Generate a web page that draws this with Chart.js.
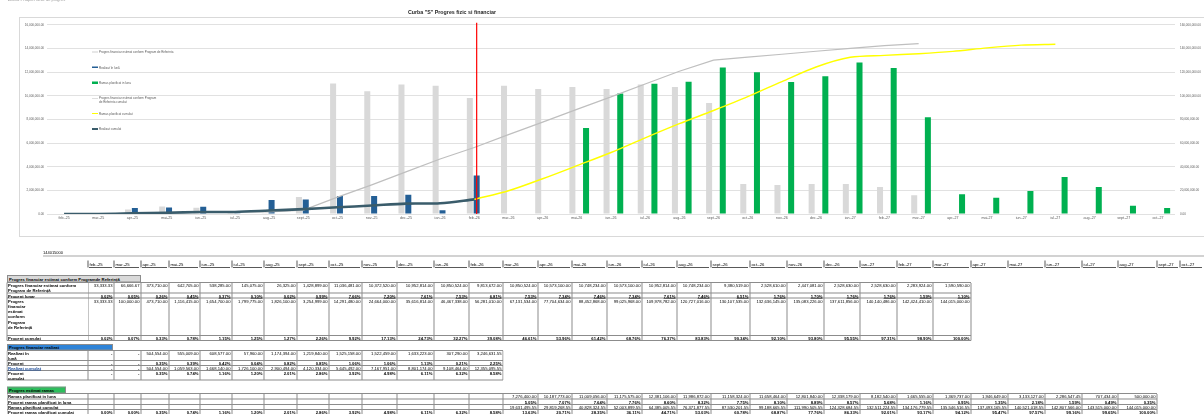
<!DOCTYPE html>
<html>
<head>
<meta charset="utf-8">
<script src="https://cdn.jsdelivr.net/npm/chart.js@4.4.1/dist/chart.umd.min.js"></script>
<style>
html, body { margin: 0; padding: 0; background: #fff; }
body { width: 1204px; height: 414px; overflow: hidden; position: relative; font-family: "Liberation Sans", Arial, sans-serif; }
#chartBox { position: absolute; left: 19px; top: 17px; width: 1200px; height: 218px; border: 1px solid #d9d9d9; }
#chart { position: absolute; left: 0; top: 0; }
#ov { position: absolute; left: 0; top: 0; width: 2408px; height: 828px; transform: scale(0.5); transform-origin: 0 0; }
#ov div { position: absolute; box-sizing: border-box; white-space: nowrap; color: #000; }
</style>
</head>
<body>
<div id="chartBox"><canvas id="chart" width="1184" height="218"></canvas></div>
<div id="ov"></div>
<script>
// luni (axa X si capul de tabel)
const months = ['feb.-25', 'mar.-25', 'apr.-25', 'mai-25', 'iun.-25', 'iul.-25', 'aug.-25', 'sept.-25', 'oct.-25', 'nov.-25', 'dec.-25',
    'ian.-26', 'feb.-26', 'mar.-26', 'apr.-26', 'mai-26', 'iun.-26', 'iul.-26', 'aug.-26', 'sept.-26', 'oct.-26', 'nov.-26', 'dec.-26',
    'ian.-27', 'feb.-27', 'mar.-27', 'apr.-27', 'mai-27', 'iun.-27', 'iul.-27', 'aug.-27', 'sept.-27', 'oct.-27'];

const valoareTotala = 144015000;
const lunaCurenta = 'feb.-26';

// Progres financiar estimat conform Program de Referinta (feb.-25 .. mar.-27)
const programLunar = [33333.33, 66666.67, 373710, 642705, 538285, 145075, 26325, 1428899, 11036481, 10372520, 10952814,
    10850524, 9813672, 10850524, 10573100, 10748234, 10573100, 10952814, 10748234, 9380519, 2528610, 2447081, 2528630,
    2528630, 2283924, 1590590];
const procentLunar = [0.02, 0.05, 0.26, 0.45, 0.37, 0.10, 0.02, 0.99, 7.66, 7.20, 7.61, 7.53, 6.81, 7.53, 7.34, 7.46, 7.34,
    7.61, 7.46, 6.51, 1.76, 1.70, 1.76, 1.76, 1.59, 1.10];
const programCumulat = [33333.33, 100000, 473710, 1116415, 1654700, 1799775, 1826100, 3254999, 14291480, 24664000, 35616814,
    46467338, 56281010, 67131534, 77704634, 88452868, 99025968, 109978782, 120727016, 130107535, 132636145, 135083226,
    137611856, 140140486, 142424410, 144015000];
const procentCumulat = [0.02, 0.07, 0.33, 0.78, 1.15, 1.25, 1.27, 2.26, 9.92, 17.13, 24.73, 32.27, 39.08, 46.61, 53.96, 61.42,
    68.76, 76.37, 83.83, 90.34, 92.10, 93.80, 95.55, 97.31, 98.90, 100.00];

// Progres financiar realizat (feb.-25 .. feb.-26)
const realizatLuna = [0, 0, 504554, 555009, 608577, 57960, 1174394, 1219840, 1525158, 1522459, 1633223, 307290, 3246631.55];
const procentRealizat = [0, 0, 0.35, 0.39, 0.42, 0.04, 0.82, 0.85, 1.06, 1.06, 1.13, 0.21, 2.25];
const realizatCumulat = [0, 0, 504554, 1059563, 1668140, 1726100, 2900494, 4120334, 5645492, 7167951, 8801174, 9108464, 12355095.55];
const procentRealizatCumulat = [0, 0, 0.35, 0.74, 1.16, 1.20, 2.01, 2.86, 3.92, 4.98, 6.11, 6.32, 8.58];

// Progres estimat ramas (mar.-26 .. aug.-27)
const ramasStart = 'mar.-26';
const ramasLuna = [7276400, 10187773, 11009056, 11175575, 12381106, 11986872, 11158324, 11658464, 12801840, 12338179,
    8182540, 1665555, 1369737, 1946649, 3133127, 2286547.45, 707434, 500000];
const procentRamasLuna = [5.05, 7.07, 7.64, 7.76, 8.60, 8.32, 7.75, 8.10, 8.89, 8.57, 5.68, 1.16, 0.95, 1.35, 2.18, 1.59, 0.49, 0.35];
const ramasCumulat = [19631495.55, 29819268.55, 40828324.55, 52003899.55, 64385005.55, 76371877.55, 87530201.55, 99188665.55,
    111990505.55, 124328684.55, 132511224.55, 134176779.55, 135546516.55, 137493165.55, 140521018.55, 142807566, 143515000, 144015000];
// feb.-25 .. aug.-27
const procentRamasCumulat = [0, 0, 0.35, 0.74, 1.16, 1.20, 2.01, 2.86, 3.92, 4.98, 6.11, 6.32, 8.58, 13.63, 20.71, 28.35, 36.11,
    44.71, 53.03, 60.78, 68.87, 77.76, 86.33, 92.01, 93.17, 94.12, 95.47, 97.57, 99.16, 99.65, 100.00];

// in grafic, barele "ramas" apar de la mai.-26, iar curba cumulata se opreste la iul.-27
const ramasBareStart = 'mai-26';
const ramasCurbaEnd = 'iul.-27';

const FONT = '"Liberation Sans", Arial, sans-serif';
const fmt = v => v.toLocaleString('en-US', { minimumFractionDigits: 2, maximumFractionDigits: 2 });
const pct = v => v.toFixed(2) + '%';

const iCurent = months.indexOf(lunaCurenta);
const greenData = months.map((m, i) => {
    const k = i - months.indexOf(ramasBareStart);
    return k >= 0 && k < ramasLuna.length ? ramasLuna[k] : null;
});
const yellowData = months.map((m, i) => {
    if (i === iCurent) return realizatCumulat[realizatCumulat.length - 1];
    const k = i - months.indexOf(ramasStart);
    return k >= 0 && i <= months.indexOf(ramasCurbaEnd) ? ramasCumulat[k] : null;
});

// grupul de bare e usor decalat spre dreapta fata de mijlocul lunii (ca in Excel)
const BAR_SHIFT = 2.4;
const barShiftPlugin = {
    id: 'barShift',
    beforeDatasetDraw(chart, args) {
        if (args.meta.type !== 'bar') return;
        chart.ctx.save();
        chart.ctx.translate(BAR_SHIFT, 0);
    },
    afterDatasetDraw(chart, args) {
        if (args.meta.type !== 'bar') return;
        chart.ctx.restore();
    }
};

const markerPlugin = {
    id: 'marker',
    afterDatasetsDraw(chart) {
        const {ctx, chartArea} = chart;
        const bar = chart.getDatasetMeta(4).data[iCurent];
        const x = bar.x + BAR_SHIFT;
        ctx.save();
        ctx.strokeStyle = '#FF0000';
        ctx.lineWidth = 1.2;
        ctx.beginPath();
        ctx.moveTo(x, chartArea.top - 2);
        ctx.lineTo(x, chartArea.bottom);
        ctx.stroke();
        ctx.restore();
    }
};

const tickFont = { family: FONT, size: 3 };

new Chart(document.getElementById('chart'), {
    data: {
        labels: months,
        datasets: [
            { type: 'line', label: 'Realizat cumulat', data: realizatCumulat, yAxisID: 'yR',
              borderColor: '#3A5C6B', borderWidth: 2.6, pointRadius: 0, tension: 0.3, order: 0 },
            { type: 'line', label: 'Ramas planificat cumulat', data: yellowData, yAxisID: 'yR',
              borderColor: '#FFFF00', borderWidth: 1.4, pointRadius: 0, tension: 0.3, order: 1 },
            { type: 'line', label: 'Progres financiar estimat conform Program de Referinta cumulat', data: programCumulat, yAxisID: 'yR',
              borderColor: '#BFBFBF', borderWidth: 1.2, pointRadius: 0, tension: 0, order: 2 },
            { type: 'bar', label: 'Progres financiar estimat conform Program de Referinta', data: programLunar, yAxisID: 'yL',
              backgroundColor: '#D9D9D9', categoryPercentage: 0.6, barPercentage: 0.88, order: 3 },
            { type: 'bar', label: 'Realizat în lună', data: realizatLuna, yAxisID: 'yL',
              backgroundColor: '#245F95', categoryPercentage: 0.6, barPercentage: 0.88, order: 3 },
            { type: 'bar', label: 'Ramas planificat in luna', data: greenData, yAxisID: 'yL',
              backgroundColor: '#00B050', categoryPercentage: 0.6, barPercentage: 0.88, order: 3 }
        ]
    },
    options: {
        responsive: false,
        animation: false,
        devicePixelRatio: 1,
        layout: { padding: { top: 5, left: 0, right: 0, bottom: 0 } },
        plugins: { legend: { display: false }, tooltip: { enabled: false } },
        scales: {
            x: {
                grid: { display: false, drawTicks: false },
                border: { display: false },
                ticks: { font: { family: FONT, size: 3.6 }, color: '#595959', autoSkip: false, maxRotation: 0, minRotation: 0, padding: 2 },
                afterFit(s) { s.height = 22; }
            },
            yL: {
                position: 'left', min: 0, max: 16000000,
                border: { display: false },
                grid: { color: '#D9D9D9', lineWidth: 0.8, drawTicks: false },
                ticks: { stepSize: 2000000, font: tickFont, color: '#595959', padding: 3, callback: v => fmt(v) },
                afterFit(s) { s.width = 27; }
            },
            yR: {
                position: 'right', min: 0, max: 160000000,
                border: { display: false },
                grid: { display: false, drawTicks: false },
                ticks: { stepSize: 20000000, font: tickFont, color: '#595959', padding: 5, callback: v => fmt(v) },
                afterFit(s) { s.width = 29; }
            }
        }
    },
    plugins: [barShiftPlugin, markerPlugin]
});

// ---------- texte, legenda si tabel (coordonate in pixeli de pagina, stratul e scalat 0.5) ----------
const ov = document.getElementById('ov');
const K = 2;
function put(x, y, w, h, css, html) {
    const d = document.createElement('div');
    d.style.cssText = `left:${x * K}px;top:${y * K}px;width:${w * K}px;height:${h * K}px;${css || ''}`;
    if (html != null) d.innerHTML = html;
    ov.appendChild(d);
    return d;
}
const hline = (x1, x2, y, c) => put(x1, y - 0.5, x2 - x1, 1, `background:${c || '#8c8c8c'}`);
const vline = (x, y1, y2, c) => put(x - 0.5, y1, 1, y2 - y1, `background:${c || '#8c8c8c'}`);
function txt(x, y, w, h, s, size, css) {
    put(x, y, w, h, `font-size:${size * K}px;line-height:${h * K}px;${css || ''}`, s);
}

// text taiat sus, titlu
txt(8, -3, 200, 5, 'Anexa - Raport lunar de progres', 4, 'color:#9a9a9a;');
txt(370, 9, 164, 6, 'Curba "S" Progres fizic si financiar', 5.3, 'text-align:center;font-weight:bold;color:#262626;');

// legenda
const legendItems = [
    { text: ['Progres financiar estimat conform Program de Referinta'], color: '#D0D0D0', h: 1.2 },
    { text: ['Realizat în lună'], color: '#245F95', h: 1.5 },
    { text: ['Ramas planificat in luna'], color: '#00B050', h: 2.5 },
    { text: ['Progres financiar estimat conform Program', 'de Referinta cumulat'], color: '#BFBFBF', h: 0.9 },
    { text: ['Ramas planificat cumulat'], color: '#FFFF00', h: 1.1 },
    { text: ['Realizat cumulat'], color: '#3A5C6B', h: 1.6 }
];
legendItems.forEach((it, i) => {
    const y = 52 + i * 15.4;
    put(92, y - it.h / 2, 6, it.h, `background:${it.color}`);
    put(99, y - 2, 150, 4 * it.text.length, `font-size:${3 * K}px;line-height:${4 * K}px;color:#595959;`, it.text.join('<br>'));
});

// cap de tabel
const colEdges = [88, 114, 141, 169, 200, 232, 264, 297, 329, 362, 397, 434, 469, 503, 538, 572, 607, 642, 677, 711, 750,
    787, 824, 860, 897, 933, 971, 1008, 1045, 1082, 1118, 1157, 1180, 1204];
txt(43, 250.5, 40, 5, String(valoareTotala), 4);
hline(43, 1204, 256, '#a6a6a6');
months.forEach((m, i) => {
    const x1 = colEdges[i], x2 = colEdges[i + 1];
    vline(x1, 260.5, 267.5, '#595959');
    hline(x1 + 1, x2 - 2, 267.5, '#595959');
    txt(x1 + 1.5, 261, x2 - x1 - 2, 6, m, 4.2);
});

function drawSection(title, titleW, titleBg, titleTop, rowB, nCols, rows) {
    put(7, titleTop, titleW, rowB[0] - titleTop, `background:${titleBg};border:${K}px solid #8c8c8c;font-weight:bold;font-size:${4.2 * K}px;line-height:${(rowB[0] - titleTop - 1) * K}px;padding-left:${K}px;`, title);
    const xEnd = colEdges[nCols];
    rowB.forEach(y => hline(7, xEnd, y));
    vline(7, rowB[0], rowB[rowB.length - 1]);
    for (let c = 0; c <= nCols; c++) vline(colEdges[c], rowB[0], rowB[rowB.length - 1]);
    rows.forEach((r, ri) => {
        const y1 = rowB[ri], y2 = rowB[ri + 1];
        put(8, y1 + 0.3, 80, y2 - y1, `font-size:${4.2 * K}px;line-height:${Math.min(5.3, y2 - y1) * K}px;font-weight:bold;${r.css || ''}`, r.label.join('<br>'));
        r.values.forEach((v, c) => {
            if (v == null) return;
            const col = c + (r.offset || 0);
            const x1 = colEdges[col], x2 = colEdges[col + 1];
            put(x1, y1 + 0.3, x2 - x1, Math.min(5.3, y2 - y1), `font-size:${4.2 * K}px;line-height:${Math.min(5.3, y2 - y1) * K}px;text-align:right;padding-right:${1.5 * K}px;${r.vcss || ''}`, v);
        });
    });
}

drawSection('Progres financiar estimat conform Programde Referință', 134, '#D9D9D9', 275, [282.5, 293, 298, 335.5, 340.5], programLunar.length, [
    { label: ['Progres financiar estimat conform', 'Program de Referință'], values: programLunar.map(fmt) },
    { label: ['Procent lunar'], values: procentLunar.map(pct), vcss: 'font-weight:bold;text-decoration:underline;' },
    { label: ['Progres', 'financiar', 'estimat', 'conform', 'Program', 'de Referință'], values: programCumulat.map(fmt) },
    { label: ['Procent cumulat'], values: procentCumulat.map(pct), vcss: 'font-weight:bold;' }
]);

const dash = f => v => (v === 0 ? '-' : f(v));
drawSection('Progres financiar realizat', 106, '#2F84D8', 344, [350.5, 360.5, 365.5, 370.5, 380], realizatLuna.length, [
    { label: ['Realizat în', 'lună'], values: realizatLuna.map(dash(fmt)) },
    { label: ['Procent'], values: procentRealizat.map(dash(pct)), vcss: 'font-weight:bold;' },
    { label: ['Realizat cumulat'], values: realizatCumulat.map(dash(fmt)), css: 'color:#1F4E9A;text-decoration:underline;' },
    { label: ['Procent', 'cumulat'], values: procentRealizatCumulat.map(dash(pct)), vcss: 'font-weight:bold;' }
]);

const off = months.indexOf(ramasStart);
drawSection('Progres estimat ramas', 59, '#2DBE5C', 386.5, [393.5, 399, 404.5, 409.5, 415], procentRamasCumulat.length, [
    { label: ['Ramas planificat in luna'], values: ramasLuna.map(fmt), offset: off },
    { label: ['Procent ramas planificat in luna'], values: procentRamasLuna.map(pct), offset: off, vcss: 'font-weight:bold;' },
    { label: ['Ramas planificat cumulat'], values: ramasCumulat.map(fmt), offset: off },
    { label: ['Procent ramas planificat cumulat'], values: procentRamasCumulat.map(pct), vcss: 'font-weight:bold;' }
]);
</script>
</body>
</html>
